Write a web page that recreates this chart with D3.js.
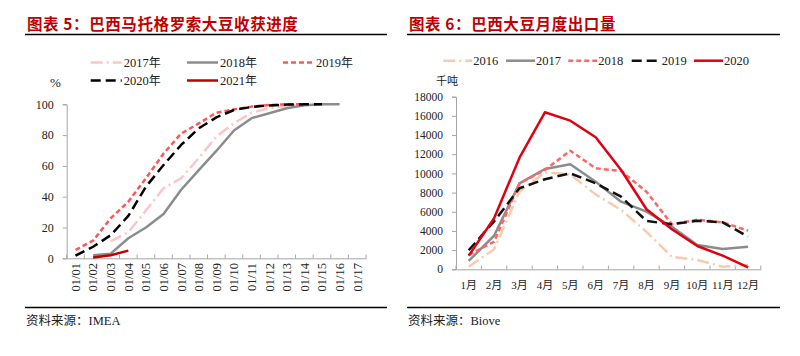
<!DOCTYPE html>
<html><head><meta charset="utf-8">
<script src="https://cdn.jsdelivr.net/npm/d3@7"></script>
<style>
body{margin:0;background:#fff;}
svg{display:block;}
text{font-family:"Liberation Serif","Noto Sans CJK SC",serif;}
.cjk{font-family:"Noto Sans CJK SC",sans-serif;}
</style></head>
<body>
<svg id="c" width="800" height="356"></svg>
<script>
// ---------- Chart 5 data ----------
const harvestWeeks = ["01/01","01/02","01/03","01/04","01/05","01/06","01/07","01/08","01/09","01/10","01/11","01/12","01/13","01/14","01/15","01/16","01/17"];
const harvestTicks = [0,20,40,60,80,100];
const h2017 = [null,null,11,17,31,45.5,52,65,79,87.7,94.5,97.5,99,100,null,null,null];
const h2018 = [null,2,3,13,20,28.8,44.5,57.3,69.7,83,91,94.2,97.4,99.4,100,100,null];
const h2019 = [5.4,11.5,26,36.8,52,68,81,87.6,94.5,96.7,98.5,99.5,100,100,null,null,null];
const h2020 = [1.7,7.5,15,27.5,46.5,60.6,73.6,84.4,91.5,96.3,98.3,99.3,99.8,100,100,null,null];
const h2021 = [null,0.5,2,5,null,null,null,null,null,null,null,null,null,null,null,null,null];

// ---------- Chart 6 data ----------
const months = ["1月","2月","3月","4月","5月","6月","7月","8月","9月","10月","11月","12月"];
const exportTicks = [0,2000,4000,6000,8000,10000,12000,14000,16000,18000];
const e2016 = [270,2100,8100,10100,9900,7800,6200,3900,1300,970,270,450];
const e2017 = [870,3500,8970,10460,10950,9140,7050,6010,4440,2530,2120,2360];
const e2018 = [1490,2880,8970,10360,12370,10530,10250,8090,4690,5170,4900,4030];
const e2019 = [1990,5000,8450,9390,10010,8970,7570,5040,4690,5070,4900,3400];
const e2020 = [1420,5320,11640,16375,15500,13770,10360,6260,4170,2430,1420,210];

const svg = d3.select("#c");
const titleColor = "#C00000";
const axisColor = "#A6A6A6";

// ---------- Headers & footers ----------
function header(x0, x1, title){
  svg.append("text").attr("class","cjk").attr("x",x0+2).attr("y",30)
    .attr("font-size",15.5).attr("font-weight","bold").attr("letter-spacing",0.6).attr("fill",titleColor).text(title);
  svg.append("line").attr("x1",x0).attr("x2",x1).attr("y1",34.5).attr("y2",34.5)
    .attr("stroke","#000").attr("stroke-width",1.5);
}
function footer(x0, x1, src){
  svg.append("line").attr("x1",x0).attr("x2",x1).attr("y1",307.5).attr("y2",307.5)
    .attr("stroke","#000").attr("stroke-width",1.5);
  const t = svg.append("text").attr("x",x0+1).attr("y",325).attr("font-size",12.5).attr("fill","#222");
  t.append("tspan").attr("class","cjk").text("资料来源：");
  t.append("tspan").text(src);
}
header(25, 387, "图表 5：巴西马托格罗索大豆收获进度");
header(407, 780, "图表 6：巴西大豆月度出口量");
footer(25, 387, "IMEA");
footer(407, 780, "Biove");

// ---------- Chart 5 ----------
{
  const x = d3.scaleBand().domain(harvestWeeks).range([66.7,366]).padding(0);
  const y = d3.scaleLinear().domain([0,100]).range([258.3,104.3]);
  const cx = d => x(d) + x.bandwidth()/2;

  const ya = svg.append("g").attr("transform","translate(66.7,0)")
    .call(d3.axisLeft(y).tickValues(harvestTicks).tickSize(4).tickPadding(9));
  ya.select(".domain").attr("stroke",axisColor);
  ya.selectAll(".tick line").attr("stroke",axisColor);
  ya.selectAll(".tick text").attr("font-size",12).attr("fill","#222").attr("font-family","Liberation Serif");

  const xa = svg.append("g").attr("transform","translate(0,258.3)")
    .call(d3.axisBottom(x).tickSize(0).tickFormat(""));
  xa.select(".domain").attr("stroke",axisColor);
  const bounds = harvestWeeks.map(d=>x(d)).concat([366]);
  svg.append("g").selectAll("line").data(bounds).join("line")
    .attr("x1",d=>d).attr("x2",d=>d).attr("y1",258.3).attr("y2",254.5).attr("stroke",axisColor);
  svg.append("g").selectAll("text").data(harvestWeeks).join("text")
    .attr("transform",d=>`translate(${cx(d)},263) rotate(-90)`)
    .attr("text-anchor","end").attr("dy","0.35em").attr("font-size",12.5).attr("fill","#222").text(d=>d);

  const series = [
    {name:"2017年", v:h2017, color:"#FFC4C4", dash:"12,4,2,4", w:2.5},
    {name:"2018年", v:h2018, color:"#8C8C8C", dash:null, w:2.5},
    {name:"2019年", v:h2019, color:"#FF5757", dash:"5,3", w:2.5},
    {name:"2020年", v:h2020, color:"#000000", dash:"10,5", w:2.5},
    {name:"2021年", v:h2021, color:"#C00000", dash:null, w:2.5}
  ];
  const line = d3.line().defined(d=>d.v!=null).x(d=>cx(d.k)).y(d=>y(d.v));
  series.forEach(s=>{
    svg.append("path").datum(harvestWeeks.map((k,i)=>({k, v:s.v[i]})))
      .attr("d",line).attr("fill","none").attr("stroke",s.color).attr("stroke-width",s.w)
      .attr("stroke-dasharray",s.dash).attr("stroke-linejoin","round");
  });

  const leg = [
    {s:series[0], x:90.7, y:62.5},{s:series[1], x:187, y:62.5},{s:series[2], x:283, y:62.5},
    {s:series[3], x:90.7, y:80.5},{s:series[4], x:187, y:80.5}
  ];
  leg.forEach(l=>{
    svg.append("line").attr("x1",l.x).attr("x2",l.x+31).attr("y1",l.y).attr("y2",l.y)
      .attr("stroke",l.s.color).attr("stroke-width",2.5).attr("stroke-dasharray",l.s.dash);
    const t = svg.append("text").attr("x",l.x+33).attr("y",l.y+4.5).attr("font-size",12.5).attr("fill","#222");
    t.append("tspan").text(l.s.name.slice(0,4));
    t.append("tspan").attr("class","cjk").attr("font-size",12).text("年");
  });
  svg.append("text").attr("x",50).attr("y",87).attr("font-size",13).attr("fill","#222").text("%");
}

// ---------- Chart 6 ----------
{
  const x = d3.scaleBand().domain(months).range([456,760.8]).padding(0);
  const y = d3.scaleLinear().domain([0,18000]).range([269.3,96.7]);
  const cx = d => x(d) + x.bandwidth()/2;

  const ya = svg.append("g").attr("transform","translate(456,0)")
    .call(d3.axisLeft(y).tickValues(exportTicks).tickFormat(d3.format("d")).tickSize(4).tickPadding(9));
  ya.select(".domain").attr("stroke",axisColor);
  ya.selectAll(".tick line").attr("stroke",axisColor);
  ya.selectAll(".tick text").attr("font-size",11.5).attr("fill","#222");

  const xa = svg.append("g").attr("transform","translate(0,269.3)")
    .call(d3.axisBottom(x).tickSize(0).tickFormat(""));
  xa.select(".domain").attr("stroke",axisColor);
  const bounds = months.map(d=>x(d)).concat([760.8]);
  svg.append("g").selectAll("line").data(bounds).join("line")
    .attr("x1",d=>d).attr("x2",d=>d).attr("y1",269.3).attr("y2",265.5).attr("stroke",axisColor);
  svg.append("g").selectAll("text").data(months).join("text")
    .attr("x",d=>cx(d)).attr("y",289).attr("text-anchor","middle")
    .attr("font-size",11).attr("fill","#222").text(d=>d);

  const series = [
    {name:"2016", v:e2016, color:"#F8CBAD", dash:"12,4,2,4"},
    {name:"2017", v:e2017, color:"#8C8C8C", dash:null},
    {name:"2018", v:e2018, color:"#FF6666", dash:"5,3"},
    {name:"2019", v:e2019, color:"#111111", dash:"10,5"},
    {name:"2020", v:e2020, color:"#E00012", dash:null}
  ];
  const line = d3.line().x(d=>cx(d.k)).y(d=>y(d.v));
  series.forEach(s=>{
    svg.append("path").datum(months.map((k,i)=>({k, v:s.v[i]})))
      .attr("d",line).attr("fill","none").attr("stroke",s.color).attr("stroke-width",2.5)
      .attr("stroke-dasharray",s.dash).attr("stroke-linejoin","round");
  });

  const lx = [443.3, 506, 568.3, 631.7, 694];
  series.forEach((s,i)=>{
    svg.append("line").attr("x1",lx[i]).attr("x2",lx[i]+29).attr("y1",60.7).attr("y2",60.7)
      .attr("stroke",s.color).attr("stroke-width",2.5).attr("stroke-dasharray",s.dash);
    svg.append("text").attr("x",lx[i]+30).attr("y",65).attr("font-size",12.5).attr("fill","#222").text(s.name);
  });
  svg.append("text").attr("class","cjk").attr("x",436).attr("y",85).attr("font-size",11).attr("fill","#222").text("千吨");
}
</script>
</body></html>
